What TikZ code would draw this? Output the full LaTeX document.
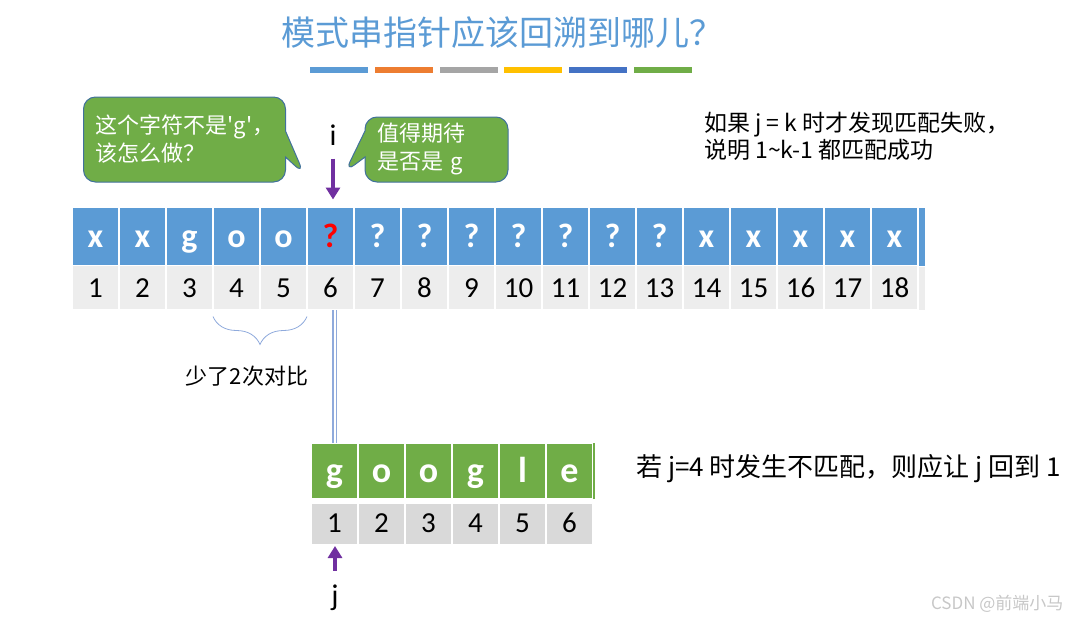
\documentclass[tikz,border=0pt]{standalone}
\usepackage{fontspec}
\setmainfont{Carlito}
\newfontfamily\cjk{Noto Sans CJK SC}
\usetikzlibrary{arrows.meta,shapes.callouts,decorations.pathreplacing}

\definecolor{cellblue}{HTML}{5B9BD5}
\definecolor{cellgreen}{HTML}{70AD47}
\definecolor{bubbleedge}{HTML}{41719C}
\definecolor{lightrow}{HTML}{EDEDED}
\definecolor{darkrow}{HTML}{D9D9D9}
\definecolor{ptrpurple}{HTML}{7030A0}
\definecolor{linkblue}{HTML}{8FAADC}
\definecolor{barorange}{HTML}{ED7D31}
\definecolor{bargray}{HTML}{A5A5A5}
\definecolor{baryellow}{HTML}{FFC000}
\definecolor{bardark}{HTML}{4472C4}

\tikzset{
  cell/.style={draw=white, line width=1.5pt, inner sep=0pt, outer sep=0pt, minimum width=47pt, text depth=0pt},
  maincell/.style={cell, fill=cellblue, minimum height=58pt, text height=22pt, text=white, font=\bfseries\fontsize{34}{36}\selectfont},
  mainnum/.style={cell, fill=lightrow, minimum height=44pt, text height=19.5pt, font=\fontsize{29}{32}\selectfont},
  patcell/.style={cell, fill=cellgreen, minimum height=56pt, text height=23pt, text=white, font=\bfseries\fontsize{36}{38}\selectfont},
  patnum/.style={cell, fill=darkrow, minimum height=42pt, text height=17pt, font=\fontsize{29}{32}\selectfont},
  ptr/.style={ptrpurple, line width=4.5pt, -{Triangle[width=14pt,length=12pt]}},
  bubble/.style={rectangle callout, rounded corners=12pt, fill=cellgreen, draw=bubbleedge, line width=1pt,
    text=white, align=left, inner xsep=12pt, callout pointer width=26pt, font=\cjk\fontsize{22}{28}\selectfont},
  note/.style={align=left, inner sep=0pt, font=\cjk\fontsize{22}{27}\selectfont},
  ptrlabel/.style={inner sep=0pt, font=\fontsize{30}{32}\selectfont},
}

\begin{document}
\begin{tikzpicture}[x=1pt, y=-1pt]
    \useasboundingbox (0,0) rectangle (1070,621);
    \def\cw{47}

    % Title and colour bars
    \node[text=cellblue, font=\cjk\fontsize{34}{36}\selectfont] (title) at (502,33) {模式串指针应该回溯到哪儿？};
    \foreach \c [count=\k] in {cellblue,barorange,bargray,baryellow,bardark,cellgreen}
        \fill[\c] ({310+(\k-1)*64.8},67) rectangle ++(58,6);

    % Main string
    \foreach \l [count=\i] in {x,x,g,o,o,{\color{red}?},?,?,?,?,?,?,?,x,x,x,x,x} {
        \node[maincell] (t\i) at ({95.5+(\i-1)*\cw},236.5) {\l};
        \node[mainnum] (n\i) at ({95.5+(\i-1)*\cw},287.5) {\i};
    }
    \fill[cellblue] (919,207.5) rectangle (925,265.5);
    \fill[lightrow] (919,266.5) rectangle (925,309.5);

    % Pattern string
    \foreach \l [count=\k] in {g,o,o,g,l,e} {
        \node[patcell] (p\k) at ({334.5+(\k-1)*\cw},471) {\l};
        \node[patnum] (q\k) at ({334.5+(\k-1)*\cw},524) {\k};
    }
    \fill[cellgreen] (p6.north east) rectangle ++(2,56);

    % Alignment link
    \draw[linkblue, double=white, double distance=2pt, line width=1.8pt] (p1.north) -- (p1.north |- n6.south);

    % Pointers i and j
    \node[ptrlabel] (ilabel) at (333,135) {i};
    \draw[ptr] ([yshift=-13pt]ilabel.south) -- ([yshift=8pt]ilabel.south |- t6.north);
    \node[ptrlabel] (jlabel) at (335,598) {j};
    \draw[ptr] ([yshift=14pt]jlabel.north) -- ([yshift=-1pt]jlabel.north |- q1.south);

    % Callouts
    \coordinate (tipA) at (304,174);
    \coordinate (tipB) at (345,172);
    \node[bubble, text width=178pt, minimum height=85pt, callout absolute pointer={(tipA)}] (askbox) at (184.5,139.5)
        {这个字符不是'g'，\\该怎么做？};
    \node[bubble, text width=119pt, minimum height=65pt, callout absolute pointer={(tipB)}] (hopebox) at (436.5,149.5)
        {值得期待\\是否是 g};

    % Skipped comparisons
    \draw[linkblue, line width=0.8pt, decorate, decoration={brace, mirror, amplitude=28pt}]
        ([yshift=-7pt]n4.south west) -- ([yshift=-7pt]n5.south east);
    \node[note] (skip) at (247,376) {少了2次对比};

    % Notes
    \node[note, anchor=west, font=\cjk\fontsize{23}{27}\selectfont] (ruleA) at (704,136.5) {如果 j = k 时才发现匹配失败，\\说明 1\textasciitilde k-1 都匹配成功};
    \node[note, anchor=west, font=\cjk\fontsize{26}{28}\selectfont] (ruleB) at (636,469) {若 j=4 时发生不匹配，则应让 j 回到 1};

    \node[anchor=east, text=black!22, font=\cjk\fontsize{17}{20}\selectfont] (mark) at (1067,604) {CSDN @前端小马};
\end{tikzpicture}
\end{document}
